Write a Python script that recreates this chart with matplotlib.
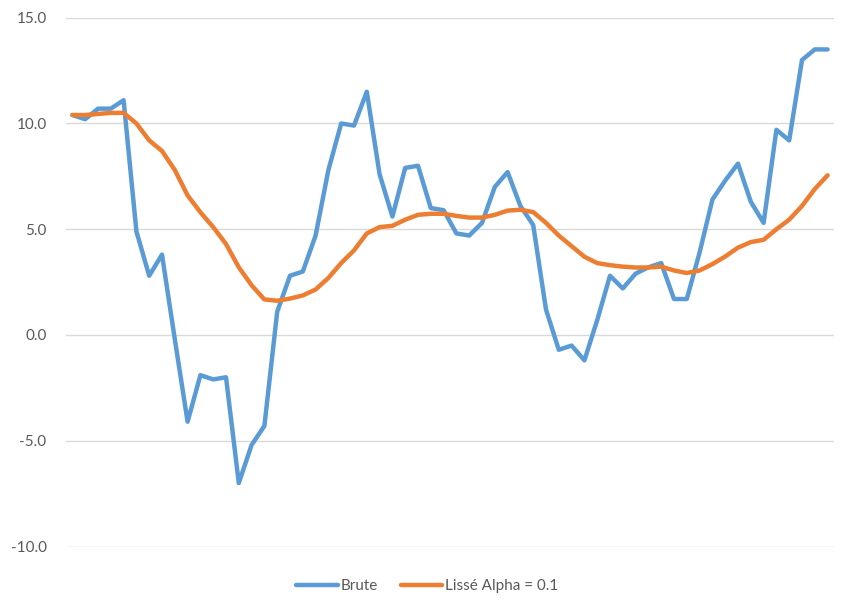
import matplotlib.pyplot as plt

# Valeurs (60 points)
brute = [10.4, 10.2, 10.7, 10.7, 11.1, 4.9, 2.8, 3.8, -0.2, -4.1,
         -1.9, -2.1, -2.0, -7.0, -5.2, -4.3, 1.1, 2.8, 3.0, 4.7,
         7.8, 10.0, 9.9, 11.5, 7.6, 5.6, 7.9, 8.0, 6.0, 5.9,
         4.8, 4.7, 5.3, 7.0, 7.7, 6.1, 5.2, 1.2, -0.7, -0.5,
         -1.2, 0.7, 2.8, 2.2, 2.9, 3.2, 3.4, 1.7, 1.7, 3.9,
         6.4, 7.3, 8.1, 6.3, 5.3, 9.7, 9.2, 13.0, 13.5, 13.5]

lisse = [10.4, 10.4, 10.45, 10.5, 10.5, 10.0, 9.2, 8.7, 7.8, 6.6,
         5.8, 5.1, 4.3, 3.2, 2.35, 1.68, 1.62, 1.72, 1.87, 2.15,
         2.7, 3.4, 4.0, 4.8, 5.1, 5.16, 5.45, 5.68, 5.73, 5.73,
         5.63, 5.55, 5.55, 5.68, 5.88, 5.92, 5.81, 5.3, 4.7, 4.2,
         3.7, 3.4, 3.3, 3.23, 3.19, 3.19, 3.23, 3.05, 2.93, 3.05,
         3.35, 3.71, 4.13, 4.39, 4.5, 5.0, 5.45, 6.1, 6.9, 7.55]

x = list(range(len(brute)))
yticks = [-10, -5, 0, 5, 10, 15]

plt.rcParams['font.family'] = ['Lato', 'DejaVu Sans']

fig = plt.figure(figsize=(8.55, 6.15), dpi=100)
ax = fig.add_axes([66 / 855, (615 - 546.5) / 615, (834 - 66) / 855, (546.5 - 17.7) / 615])

ax.plot(x, brute, color='#5B9BD5', lw=3.2, label='Brute', solid_joinstyle='round', solid_capstyle='round')
ax.plot(x, lisse, color='#ED7D31', lw=3.2, label='Lissé Alpha = 0.1', solid_joinstyle='round', solid_capstyle='round')

ax.set_xlim(-0.5, len(brute) - 0.5)
ax.set_ylim(-10, 15)
ax.set_yticks(yticks)
ax.set_yticklabels([f'{v:.1f}' for v in yticks])
ax.set_xticks([])
ax.grid(axis='y', color='#D9D9D9', lw=1)
ax.set_axisbelow(True)
for s in ax.spines.values():
    s.set_visible(False)
ax.tick_params(axis='y', length=0, pad=14, labelsize=11, labelcolor='#595959')

fig.legend(loc='center', bbox_to_anchor=(0.5, (615 - 586) / 615), ncol=2, frameon=False,
           fontsize=11, labelcolor='#595959', handlelength=2.7, handletextpad=0.2, columnspacing=1.5)

fig.savefig('out.png', dpi=100)
